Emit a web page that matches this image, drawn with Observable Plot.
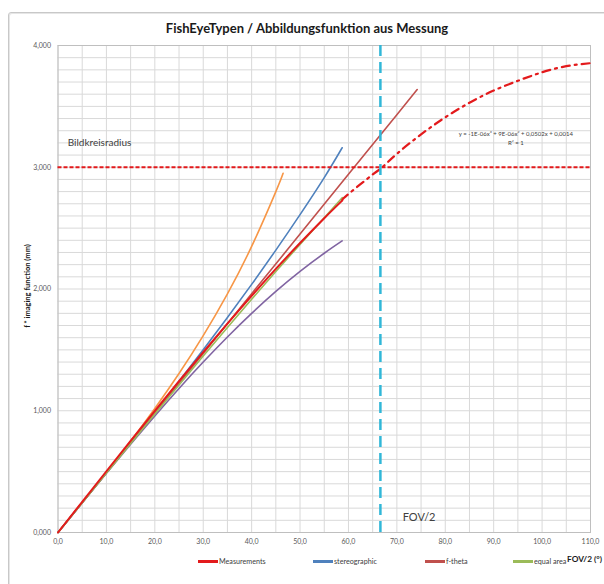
<!DOCTYPE html>
<html>
<head>
<meta charset="utf-8">
<script src="https://cdn.jsdelivr.net/npm/d3@7"></script>
<script src="https://cdn.jsdelivr.net/npm/@observablehq/plot@0.6"></script>
<style>
  html, body { margin: 0; padding: 0; background: #fff; }
  #wrap { position: relative; width: 604px; height: 584px; overflow: hidden; font-family: Lato, "Open Sans", sans-serif; }
  #frame { position: absolute; left: 8px; top: 12px; width: 620px; height: 600px; border: 1px solid #c8c8c8; border-radius: 3px; box-shadow: inset 1px 1px 0 #e6e6e6; }
  #title { position: absolute; top: 20px; left: 0; width: 614px; text-align: center; font-weight: bold; font-size: 13px; color: #1a1a1a; white-space: nowrap; }
  #ylabel { position: absolute; left: 27px; top: 286px; transform: translate(-50%, -50%) rotate(-90deg); font-weight: bold; font-size: 7.5px; color: #1a1a1a; white-space: nowrap; }
  .leg { position: absolute; top: 557px; font-size: 7.2px; color: #404040; white-space: nowrap; display: flex; align-items: center; }
  .leg span.sw { display: inline-block; width: 20px; height: 2.5px; margin-right: 1px; }
  #xlabel { position: absolute; left: 567px; top: 554px; font-weight: bold; font-size: 8.3px; color: #1a1a1a; white-space: nowrap; }
  svg { position: absolute; left: 0; top: 0; }
</style>
</head>
<body>
<div id="wrap">
  <div id="frame"></div>
  <div id="chart"></div>
  <div id="title"></div>
  <div id="ylabel"></div>
  <div id="legend"></div>
  <div id="xlabel"></div>
</div>
<script>
// ---- data ----
const titleText = "FishEyeTypen / Abbildungsfunktion aus Messung";
const yAxisTitle = "f * imaging function (mm)";
const xAxisTitle = "FOV/2 (°)";

const xTicks = [0, 10, 20, 30, 40, 50, 60, 70, 80, 90, 100, 110];
const yTicks = [0, 1, 2, 3, 4];

const angles = [0, 5, 10, 15, 20, 25, 30, 35, 40, 45, 50, 55, 58.7];
const measurements = [0, 0.2525, 0.5031, 0.7522, 0.999, 1.2425, 1.4818, 1.7158, 1.9438, 2.1647, 2.3777, 2.5817, 2.726];
const stereographic = [0, 0.2445, 0.4899, 0.7373, 0.9874, 1.2415, 1.5005, 1.7657, 2.0382, 2.3196, 2.6113, 2.9152, 3.16];
const equalArea = [0, 0.2443, 0.4881, 0.731, 0.9724, 1.2121, 1.4494, 1.684, 1.9153, 2.143, 2.3667, 2.5858, 2.75];
const orthographic = [0, 0.244, 0.4862, 0.7247, 0.9577, 1.1833, 1.4, 1.606, 1.7998, 1.9799, 2.1449, 2.2936, 2.395];

const fThetaAngles = [0, 10, 20, 30, 40, 50, 60, 70, 74.2];
const fTheta = [0, 0.4903, 0.9806, 1.4709, 1.9612, 2.4515, 2.9418, 3.4321, 3.638];

const rectAngles = [0, 5, 10, 15, 20, 25, 30, 35, 40, 45, 46.5];
const rectilinear = [0, 0.245, 0.4937, 0.7503, 1.0191, 1.3057, 1.6166, 1.9606, 2.3495, 2.8, 2.9506];

const trendAngles = [58.7, 60, 65, 67, 70, 75, 80, 85, 90, 95, 100, 105, 110];
const trend = [2.73, 2.78, 2.94, 3.0, 3.11, 3.27, 3.41, 3.53, 3.63, 3.71, 3.78, 3.83, 3.855];

const imageCircleRadius = 3.0;
const fovHalf = 66.6;

const equationText = "y = -1E-06x³ + 9E-06x² + 0,0502x + 0,0014";
const r2Text = "R² = 1";
const radiusLabel = "Bildkreisradius";
const fovLabel = "FOV/2";

const legendItems = [
  {name: "Measurements", color: "#e31a1c", left: 198},
  {name: "stereographic", color: "#4f81bd", left: 313},
  {name: "f-theta", color: "#c0504d", left: 425},
  {name: "equal area", color: "#9bbb59", left: 513}
];

// ---- build tables ----
const toRows = (xs, ys) => xs.map((x, i) => ({x, y: ys[i]}));
const deFmt = (d, n) => d.toFixed(n).replace(".", ",");

const chart = Plot.plot({
  width: 604,
  height: 584,
  marginLeft: 57.5,
  marginRight: 14,
  marginTop: 45,
  marginBottom: 52,
  style: {fontFamily: "Lato, 'Open Sans', sans-serif", background: "transparent"},
  x: {domain: [0, 110], ticks: xTicks, tickFormat: d => deFmt(d, 1), tickSize: 0, label: null},
  y: {domain: [0, 4], ticks: yTicks, tickFormat: d => deFmt(d, 3), tickSize: 0, label: null},
  marks: [
    Plot.gridX(d3.range(0, 111, 5), {stroke: "#d9d9d9", strokeOpacity: 1, strokeWidth: 1}),
    Plot.gridY(d3.range(0, 40.1, 1).map(d => d / 10), {stroke: "#d9d9d9", strokeOpacity: 1, strokeWidth: 1}),
    Plot.frame({stroke: "#bfbfbf"}),
    Plot.axisX({ticks: xTicks, tickFormat: d => deFmt(d, 1), tickSize: 0, tickPadding: 7, fontSize: 7, fill: "#595959", label: null}),
    Plot.axisY({ticks: yTicks, tickFormat: d => deFmt(d, 3), tickSize: 0, tickPadding: 7, fontSize: 7, fill: "#595959", label: null}),
    Plot.line(toRows(rectAngles, rectilinear), {x: "x", y: "y", stroke: "#f79646", strokeWidth: 1.6, curve: "natural"}),
    Plot.line(toRows(angles, orthographic), {x: "x", y: "y", stroke: "#8064a2", strokeWidth: 1.6, curve: "natural"}),
    Plot.line(toRows(angles, stereographic), {x: "x", y: "y", stroke: "#4f81bd", strokeWidth: 1.6, curve: "natural"}),
    Plot.line(toRows(fThetaAngles, fTheta), {x: "x", y: "y", stroke: "#c0504d", strokeWidth: 1.6}),
    Plot.line(toRows(angles, equalArea), {x: "x", y: "y", stroke: "#9bbb59", strokeWidth: 1.6, curve: "natural"}),
    Plot.line(toRows(angles, measurements), {x: "x", y: "y", stroke: "#e31a1c", strokeWidth: 2, curve: "natural"}),
    Plot.line(toRows(trendAngles, trend), {x: "x", y: "y", stroke: "#e31a1c", strokeWidth: 2.2, strokeDasharray: "8,5,2,5", curve: "natural"}),
    Plot.ruleY([imageCircleRadius], {stroke: "#e31a1c", strokeWidth: 2, strokeDasharray: "4,2"}),
    Plot.ruleX([fovHalf], {stroke: "#31b7d8", strokeWidth: 2.5, strokeDasharray: "11,6"}),
    Plot.text([radiusLabel], {x: 2.0, y: 3.2, text: d => d, textAnchor: "start", fontSize: 10, fill: "#404040"}),
    Plot.text([fovLabel], {x: 71.2, y: 0.12, text: d => d, textAnchor: "start", fontSize: 11, fill: "#404040"}),
    Plot.text([equationText], {x: 94.6, y: 3.27, text: d => d, fontSize: 6, fill: "#404040"}),
    Plot.text([r2Text], {x: 94.6, y: 3.196, text: d => d, fontSize: 6, fill: "#404040"})
  ]
});
document.getElementById("chart").appendChild(chart);

document.getElementById("title").textContent = titleText;
document.getElementById("ylabel").textContent = yAxisTitle;
document.getElementById("xlabel").textContent = xAxisTitle;

const legend = document.getElementById("legend");
for (const item of legendItems) {
  const el = document.createElement("div");
  el.className = "leg";
  el.style.left = item.left + "px";
  const sw = document.createElement("span");
  sw.className = "sw";
  sw.style.background = item.color;
  el.appendChild(sw);
  el.appendChild(document.createTextNode(item.name));
  legend.appendChild(el);
}
</script>
</body>
</html>
